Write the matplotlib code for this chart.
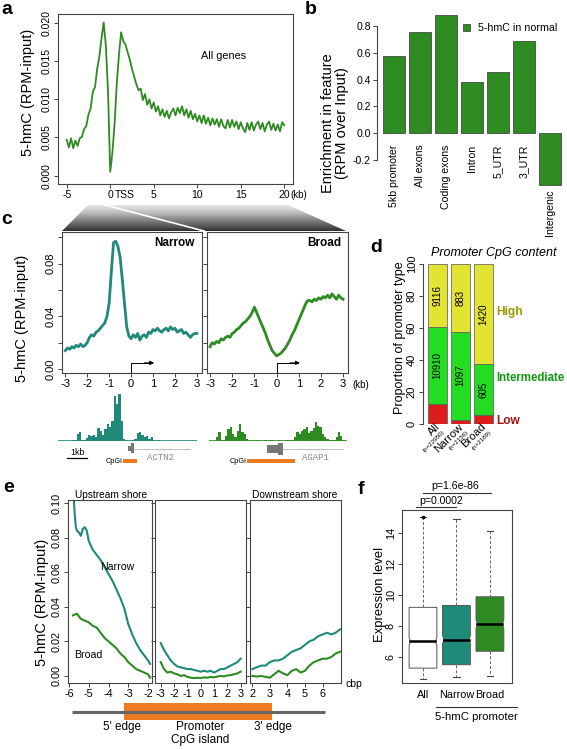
import numpy as np
import matplotlib.pyplot as plt
from matplotlib.patches import Polygon, Rectangle, Patch

plt.rcParams['font.family'] = ['Liberation Sans', 'DejaVu Sans']
plt.rcParams['axes.edgecolor'] = '#444444'
plt.rcParams['axes.linewidth'] = 0.8
plt.rcParams['xtick.color'] = '#444444'
plt.rcParams['ytick.color'] = '#444444'
plt.rcParams['xtick.labelcolor'] = 'black'
plt.rcParams['ytick.labelcolor'] = 'black'

GREEN = '#2e8b22'
TEAL = '#1f8a7a'
ORANGE = '#ee7a22'

# ---------------- data ----------------
# a: 5-hmC around TSS for all genes, one value every 0.25 kb from -5 to 20
a_vals = [0.0047, 0.0037, 0.0049, 0.0036, 0.0046, 0.0039, 0.0049, 0.0051, 0.0061, 0.0065,
          0.0080, 0.0088, 0.0110, 0.0116, 0.0140, 0.0156, 0.0180, 0.0201, 0.0170, 0.0110,
          0.0005, 0.0030, 0.0068, 0.0120, 0.0158, 0.0188, 0.0176, 0.0172, 0.0162, 0.0152,
          0.0140, 0.0130, 0.0120, 0.0112, 0.0114, 0.0099, 0.0107, 0.0093, 0.0100, 0.0088,
          0.0096, 0.0084, 0.0091, 0.0079, 0.0087, 0.0077, 0.0085, 0.0075, 0.0083, 0.0088,
          0.0079, 0.0089, 0.0082, 0.0091, 0.0079, 0.0087, 0.0076, 0.0085, 0.0074, 0.0081,
          0.0071, 0.0079, 0.0069, 0.0079, 0.0068, 0.0076, 0.0066, 0.0075, 0.0067, 0.0074,
          0.0064, 0.0074, 0.0065, 0.0062, 0.0073, 0.0063, 0.0073, 0.0064, 0.0071, 0.0061,
          0.0070, 0.0062, 0.0057, 0.0069, 0.0060, 0.0070, 0.0059, 0.0067, 0.0071, 0.0061,
          0.0069, 0.0058, 0.0067, 0.0071, 0.0060, 0.0068, 0.0059, 0.0067, 0.0058, 0.0070,
          0.0066]
a_x = np.linspace(-5, 20, len(a_vals))

# b: enrichment in genomic features
b_feat = ['5kb promoter', 'All exons', 'Coding exons', 'Intron', '5_UTR', '3_UTR', 'Intergenic']
b_vals = [0.577, 0.757, 0.885, 0.38, 0.457, 0.687, -0.39]

# c: narrow / broad promoter profiles, every 0.1 kb from -3 to 3
c_narrow = [0.014, 0.016, 0.015, 0.017, 0.016, 0.018, 0.017, 0.019, 0.017, 0.018,
            0.020, 0.024, 0.026, 0.025, 0.028, 0.029, 0.031, 0.033, 0.035, 0.040,
            0.050, 0.074, 0.096, 0.097, 0.093, 0.085, 0.068, 0.050, 0.032, 0.025,
            0.023, 0.026, 0.024, 0.027, 0.022, 0.025, 0.026, 0.024, 0.028, 0.027,
            0.030, 0.029, 0.031, 0.029, 0.028, 0.030, 0.031, 0.029, 0.032, 0.030,
            0.031, 0.028, 0.029, 0.030, 0.027, 0.028, 0.026, 0.024, 0.026, 0.027,
            0.027]
c_broad = [0.017, 0.020, 0.019, 0.021, 0.020, 0.023, 0.022, 0.024, 0.025, 0.024,
           0.027, 0.028, 0.030, 0.031, 0.033, 0.035, 0.036, 0.038, 0.040, 0.043,
           0.047, 0.043, 0.039, 0.035, 0.031, 0.027, 0.022, 0.018, 0.014, 0.012,
           0.010, 0.011, 0.012, 0.014, 0.016, 0.019, 0.022, 0.026, 0.029, 0.033,
           0.037, 0.041, 0.045, 0.049, 0.052, 0.052, 0.051, 0.053, 0.052, 0.054,
           0.053, 0.055, 0.054, 0.056, 0.054, 0.057, 0.055, 0.053, 0.056, 0.054,
           0.053]
c_x = np.linspace(-3, 3, len(c_narrow))

# c: genome browser signal (60 bins per track)
trk_actn2 = [0, 0, 0, 0, 0, 0, 1, 3, 20, 25, 2, 1, 8, 18, 15, 16, 10, 38, 30, 18,
             35, 50, 40, 60, 135, 110, 140, 60, 5, 2, 0, 0, 1, 4, 22, 25, 18, 12, 14, 5,
             12, 3, 0, 1, 0, 0, 0, 0, 0, 0, 0, 0, 0, 0, 0, 0, 0, 0, 0, 0]
trk_agap1 = [0, 0, 0, 10, 25, 3, 2, 15, 35, 40, 20, 10, 30, 50, 25, 20, 5, 1, 0, 2,
             0, 1, 0, 0, 1, 0, 2, 1, 0, 0, 1, 0, 0, 1, 2, 0, 3, 12, 25, 20,
             28, 35, 40, 22, 30, 38, 55, 45, 40, 20, 12, 5, 3, 2, 1, 10, 25, 15, 2, 0]

# d: promoter CpG content (percent of promoters)
d_groups = ['All', 'Narrow', 'Broad']
d_n = ['(n=22950)', '(n=2156)', '(n=2189)']
d_low = [12.7, 2.7, 5.8]
d_mid = [47.8, 55.1, 31.6]
d_high = [39.5, 42.2, 62.6]
d_mid_cnt = ['10910', '1097', '605']
d_high_cnt = ['9116', '883', '1420']

# e: profiles across CpG island shores
e1_x = [-5.75, -5.7, -5.65, -5.6, -5.5, -5.4, -5.3, -5.2, -5.1, -5.0, -4.8, -4.6, -4.4,
        -4.2, -4.0, -3.8, -3.6, -3.4, -3.2, -3.0, -2.8, -2.6, -2.4, -2.2, -2.0, -1.9]
e1_narrow = [0.101, 0.092, 0.086, 0.084, 0.083, 0.081, 0.085, 0.086, 0.084, 0.078, 0.073,
             0.070, 0.067, 0.063, 0.059, 0.055, 0.050, 0.045, 0.039, 0.030, 0.024, 0.019,
             0.015, 0.012, 0.009, 0.007]
e1b_x = [-5.8, -5.6, -5.4, -5.2, -5.0, -4.8, -4.6, -4.4, -4.2, -4.0, -3.8, -3.6, -3.4,
         -3.2, -3.0, -2.8, -2.6, -2.4, -2.2, -2.0, -1.9]
e1_broad = [0.035, 0.036, 0.033, 0.032, 0.031, 0.029, 0.028, 0.025, 0.022, 0.020, 0.018,
            0.016, 0.013, 0.011, 0.008, 0.006, 0.004, 0.003, 0.002, 0.001, -0.001]
e2_narrow = [0.019, 0.015, 0.012, 0.009, 0.007, 0.0055, 0.005, 0.0045, 0.004, 0.004,
             0.0035, 0.003, 0.0025, 0.003, 0.0025, 0.003, 0.002, 0.003, 0.004, 0.004,
             0.005, 0.006, 0.007, 0.008, 0.010]
e2_broad = [0.008, 0.004, 0.002, 0.0025, 0.0015, 0.001, 0.0, 0.0005, -0.0005, -0.001,
            -0.0012, -0.001, -0.0012, -0.0008, -0.001, -0.0005, -0.0008, -0.0003, 0.0,
            -0.0002, 0.0003, 0.0005, 0.001, 0.0015, 0.0025]
e2_x = np.linspace(-3, 3, len(e2_narrow))
e3_narrow = [0.004, 0.005, 0.006, 0.006, 0.008, 0.009, 0.009, 0.010, 0.012, 0.014, 0.015,
             0.016, 0.018, 0.020, 0.021, 0.023, 0.024, 0.025, 0.024, 0.025, 0.027]
e3_broad = [0.000, -0.0003, 0.0, -0.0005, -0.001, 0.001, 0.003, 0.0015, 0.0005, 0.003,
            0.004, 0.002, 0.003, 0.006, 0.008, 0.009, 0.010, 0.010, 0.011, 0.013, 0.014]
e3_x = np.linspace(2, 7, len(e3_narrow))

# f: expression level boxplot stats
f_groups = ['All', 'Narrow', 'Broad']
f_low = [4.6, 4.7, 4.75]
f_q1 = [5.28, 5.5, 6.37]
f_med = [7.0, 7.12, 8.12]
f_q3 = [9.2, 9.32, 9.88]
f_high = [15.03, 14.92, 14.15]
f_fill = ['white', TEAL, GREEN]

# ---------------- layout helpers ----------------
W, H = 567, 749
fig = plt.figure(figsize=(W / 100, H / 100), dpi=100)


def pbox(x0, y0, x1, y1):
    return fig.add_axes([x0 / W, 1 - y1 / H, (x1 - x0) / W, (y1 - y0) / H])


def rtick(ax, fs=7.5):
    ax.tick_params(direction='out', length=3, width=0.7, labelsize=fs, pad=1.5)


ov = fig.add_axes([0, 0, 1, 1], zorder=10)
ov.set_xlim(0, W)
ov.set_ylim(H, 0)
ov.axis('off')
ov.patch.set_alpha(0)

# ---------------- panel a ----------------
ax = pbox(58, 14, 293, 184)
ax.plot(a_x, a_vals, color=GREEN, lw=1.3)
ax.set_xlim(-6.0, 21.0)
ax.set_ylim(-0.0011, 0.0212)
ax.set_xticks([-5, 0, 5, 10, 15, 20])
ax.set_xticklabels(['-5', '0', '5', '10', '15', '20'])
ax.set_yticks([0, 0.005, 0.01, 0.015, 0.02])
ax.set_yticklabels(['0.000', '0.005', '0.010', '0.015', '0.020'], rotation=90, va='center')
rtick(ax)
ax.text(13, 0.0157, 'All genes', fontsize=7.8, ha='center', va='center')
ov.text(115, 195, 'TSS', fontsize=7.5, ha='left', va='center')
ov.text(290, 195, '(kb)', fontsize=7, ha='left', va='center')

# ---------------- panel b ----------------
ax = pbox(377, 14, 565, 186)
bx = np.arange(len(b_vals))
ax.bar(bx, b_vals, width=0.846, color=GREEN, edgecolor='#333333', linewidth=0.5)
ax.set_xlim(-0.654, 6.58)
ax.set_ylim(-0.396, 0.8897)
for s in ['top', 'right', 'bottom']:
    ax.spines[s].set_visible(False)
ax.spines['left'].set_bounds(-0.2, 0.8)
ax.set_xticks([])
ax.set_yticks([-0.2, 0, 0.2, 0.4, 0.6, 0.8])
ax.set_yticklabels(['-0.2', '0.0', '0.2', '0.4', '0.6', '0.8'])
rtick(ax, 7.6)
for i, v in enumerate(b_vals):
    ax.text(i, (v - 0.035) if v < 0 else -0.085, b_feat[i], rotation=90,
            ha='center', va='top', fontsize=7.6, clip_on=False)
ax.legend([Patch(facecolor=GREEN, edgecolor='#333333', linewidth=0.5)], ['5-hmC in normal'],
          loc='center left', bbox_to_anchor=(463 / W, 1 - 28 / H), bbox_transform=fig.transFigure,
          frameon=False, fontsize=7.7, handlelength=0.7, handleheight=0.7,
          handletextpad=0.7, borderpad=0, borderaxespad=0)

# ---------------- panel c ----------------
grad = np.linspace(0.18, 0.85, 64).reshape(-1, 1)
trap = Polygon([(88, 205), (288, 205), (346, 231), (62, 231)], closed=True,
               facecolor='none', edgecolor='none', transform=ov.transData)
ov.add_patch(trap)
im = ov.imshow(grad, cmap='Greys', vmin=0, vmax=1.0, aspect='auto',
               extent=(62, 346, 231, 205), zorder=1)
im.set_clip_path(trap)
ov.plot([105, 204], [205, 231], color='white', lw=1.2, zorder=2)
ov.set_xlim(0, W)
ov.set_ylim(H, 0)

for k, (x0, x1, vals, col, name) in enumerate([(62, 201.7, c_narrow, TEAL, 'Narrow'),
                                               (206.7, 348, c_broad, GREEN, 'Broad')]):
    ax = pbox(x0, 232, x1, 373)
    ax.plot(c_x, vals, color=col, lw=2)
    ax.set_xlim(-3.15, 3.22)
    ax.set_ylim(-0.003, 0.104)
    ax.set_xticks(np.arange(-3, 4))
    ax.set_xticklabels([str(t) for t in range(-3, 4)])
    ax.set_yticks([0, 0.02, 0.04, 0.06, 0.08, 0.10])
    if k == 0:
        ax.set_yticklabels(['0.00', '', '0.04', '', '0.08', ''], rotation=90, va='center')
    else:
        ax.set_yticklabels([])
    rtick(ax, 8)
    ax.text(0.95, 0.92, name, transform=ax.transAxes, ha='right', va='center',
            fontsize=8.5, fontweight='bold')
    ax.plot([0, 0, 0.95], [-0.003, 0.0047, 0.0047], color='black', lw=0.7, clip_on=False)
    ax.annotate('', xy=(1.05, 0.0047), xytext=(0.6, 0.0047),
                arrowprops=dict(arrowstyle='-|>', color='black', lw=0.7,
                                mutation_scale=6, shrinkA=0, shrinkB=0))
ov.text(352, 385, '(kb)', fontsize=7, ha='left', va='center')

for (x0, x1, h, col) in [(58, 197, trk_actn2, TEAL), (209, 347, trk_agap1, GREEN)]:
    ax = pbox(x0, 389, x1, 441)
    ax.bar(np.arange(len(h)), h, width=1.0, color=col, linewidth=0)
    ax.axhline(0, color=col, lw=1.2)
    ax.set_xlim(-0.5, len(h) - 0.5)
    ax.set_ylim(-1, 155)
    ax.axis('off')

# gene models
ov.add_patch(Rectangle((127.5, 446), 3.5, 5, color='#777777', lw=0))
ov.add_patch(Rectangle((131, 443), 3, 10, color='#777777', lw=0))
ov.plot([134, 190], [449, 449], color='#bbbbbb', lw=0.7)
ov.text(160, 457, 'ACTN2', family='Liberation Mono', fontsize=6.5, color='#888888',
        ha='center', va='center')
ov.add_patch(Rectangle((123.3, 459.3), 13.4, 4, color=ORANGE, lw=0))
ov.text(122, 461.5, 'CpGi', fontsize=5.3, ha='right', va='center')
ov.plot([67.3, 87.3], [458, 458], color='black', lw=0.9)
ov.text(77.3, 452.5, '1kb', fontsize=6.5, ha='center', va='center')
ov.add_patch(Rectangle((266.7, 445), 11, 8.3, color='#777777', lw=0))
ov.add_patch(Rectangle((277.5, 443), 5, 12, color='#777777', lw=0))
ov.plot([283, 343], [449, 449], color='#bbbbbb', lw=0.7)
ov.text(315, 457, 'AGAP1', family='Liberation Mono', fontsize=6.5, color='#888888',
        ha='center', va='center')
ov.add_patch(Rectangle((247.3, 459.3), 47.7, 4, color=ORANGE, lw=0))
ov.text(246.5, 461.5, 'CpGi', fontsize=5.3, ha='right', va='center')

# ---------------- panel d ----------------
ax = pbox(423, 264, 500, 424)
dx = np.arange(len(d_groups))
low = np.array(d_low)
mid = np.array(d_mid)
high = np.array(d_high)
kw = dict(width=0.83, edgecolor='#555555', linewidth=0.5)
ax.bar(dx, low, color='#dd1c1c', **kw)
ax.bar(dx, mid, bottom=low, color='#22dd22', **kw)
ax.bar(dx, high, bottom=low + mid, color='#e3e332', **kw)
for i in dx:
    ax.text(i, low[i] + mid[i] / 2, d_mid_cnt[i], rotation=90, ha='center', va='center', fontsize=7)
    ax.text(i, low[i] + mid[i] + high[i] / 2, d_high_cnt[i], rotation=90, ha='center',
            va='center', fontsize=7)
    ax.text(i + 0.12, -2.0, d_groups[i], rotation=45, rotation_mode='anchor', ha='right',
            va='baseline', fontsize=8, clip_on=False)
    ax.text(i + 0.22, -3.5, d_n[i], rotation=45, rotation_mode='anchor', ha='right',
            va='top', fontsize=4.5, clip_on=False)
ax.set_xlim(-0.63, 2.72)
ax.set_ylim(0, 100)
for s in ['top', 'right', 'bottom']:
    ax.spines[s].set_visible(False)
ax.set_xticks([])
ax.set_yticks([0, 20, 40, 60, 80, 100])
ax.set_yticklabels(['0', '20', '40', '60', '80', '100'], rotation=90, va='center')
rtick(ax, 8)
ov.text(496, 312, 'High', fontsize=8.6, fontweight='bold', color='#9a9a00', ha='left', va='center')
ov.text(496, 378, 'Intermediate', fontsize=8.3, fontweight='bold', color='#119911',
        ha='left', va='center')
ov.text(496, 421, 'Low', fontsize=8.6, fontweight='bold', color='#a81010', ha='left', va='center')
ov.text(494, 253, 'Promoter CpG content', fontsize=9, style='italic', ha='center', va='center')

# ---------------- panel e ----------------
e_boxes = [(68, 152, (-6.05, -1.8), [-6, -5, -4, -3, -2]),
           (155, 246, (-3.43, 3.40), [-3, -2, -1, 0, 1, 2, 3]),
           (250, 341, (1.87, 7.05), [2, 3, 4, 5, 6])]
e_lines = [((e1_x, e1_narrow), (e1b_x, e1_broad)),
           ((e2_x, e2_narrow), (e2_x, e2_broad)),
           ((e3_x, e3_narrow), (e3_x, e3_broad))]
for k, ((x0, x1, xl, xt), (ln, lb)) in enumerate(zip(e_boxes, e_lines)):
    ax = pbox(x0, 500, x1, 683)
    ax.plot(ln[0], ln[1], color=TEAL, lw=1.5)
    ax.plot(lb[0], lb[1], color=GREEN, lw=1.5)
    ax.set_xlim(*xl)
    ax.set_ylim(-0.00405, 0.1017)
    ax.set_xticks(xt)
    ax.set_xticklabels([str(t) for t in xt])
    ax.set_yticks([0, 0.02, 0.04, 0.06, 0.08, 0.10])
    if k == 0:
        ax.set_yticklabels(['0.00', '0.02', '0.04', '0.06', '0.08', '0.10'],
                           rotation=90, va='center')
        ax.text(-3.58, 0.063, 'Narrow', fontsize=7.6, ha='center', va='center')
        ax.text(-5.04, 0.012, 'Broad', fontsize=7.6, ha='center', va='center')
    else:
        ax.set_yticklabels([])
    rtick(ax, 7.8)
ov.text(111, 495, 'Upstream shore', fontsize=7.3, ha='center', va='center')
ov.text(294.5, 495, 'Downstream shore', fontsize=7.3, ha='center', va='center')
ov.text(346, 684, 'cbp', fontsize=7.5, ha='left', va='center')
ov.plot([72, 325], [712, 712], color='#666666', lw=2.2, solid_capstyle='butt')
ov.add_patch(Rectangle((124, 703), 148, 17, color=ORANGE, lw=0))
ov.text(122, 727, "5' edge", fontsize=8.5, ha='center', va='center')
ov.text(200, 727, 'Promoter', fontsize=8.5, ha='center', va='center')
ov.text(200, 740, 'CpG island', fontsize=8.5, ha='center', va='center')
ov.text(272.5, 727, "3' edge", fontsize=8.5, ha='center', va='center')

# ---------------- panel f ----------------
ax = pbox(402, 510, 512, 683)
hw = 0.415
for i in range(3):
    x = i + 1
    n = 0.27
    pts = [(x - hw, f_q1[i]), (x + hw, f_q1[i]), (x + hw, f_med[i] - n),
           (x + hw * 0.9, f_med[i]), (x + hw, f_med[i] + n), (x + hw, f_q3[i]),
           (x - hw, f_q3[i]), (x - hw, f_med[i] + n), (x - hw * 0.9, f_med[i]),
           (x - hw, f_med[i] - n)]
    ax.add_patch(Polygon(pts, closed=True, facecolor=f_fill[i], edgecolor='#555555', lw=0.7))
    ax.plot([x - hw * 0.9, x + hw * 0.9], [f_med[i], f_med[i]], color='black', lw=1.8)
    ax.plot([x, x], [f_q3[i], f_high[i]], color='#666666', lw=0.7, ls=(0, (3, 2)))
    ax.plot([x, x], [f_q1[i], f_low[i]], color='#666666', lw=0.7, ls=(0, (3, 2)))
    ax.plot([x - 0.1, x + 0.1], [f_high[i], f_high[i]], color='#444444', lw=0.8)
    ax.plot([x - 0.1, x + 0.1], [f_low[i], f_low[i]], color='#444444', lw=0.8)
ax.plot([1], [f_high[0]], marker='o', ms=1.6, color='black')
ax.set_xlim(0.373, 3.66)
ax.set_ylim(4.32, 15.48)
ax.set_yticks([6, 8, 10, 12, 14])
ax.set_yticklabels(['6', '8', '10', '12', '14'], rotation=90, va='center')
ax.set_xticks([1, 2, 3])
ax.set_xticklabels(f_groups, fontsize=8.2)
rtick(ax, 7.8)
ax.tick_params(axis='x', length=0, pad=5)
ax.plot([1.0, 3.03], [16.58, 16.58], color='#333333', lw=0.8, clip_on=False)
ax.text(1.96, 17.03, 'p=1.6e-86', fontsize=7.6, ha='center', va='center')
ax.plot([0.8, 2.0], [15.67, 15.67], color='#333333', lw=0.8, clip_on=False)
ax.text(1.54, 16.06, 'p=0.0002', fontsize=7.6, ha='center', va='center')
ax.plot([1.39, 3.81], [2.77, 2.77], color='#333333', lw=0.8, clip_on=False)
ax.text(2.61, 2.13, '5-hmC promoter', fontsize=8.2, ha='center', va='center')

# ---------------- axis titles and panel letters ----------------
ylab = dict(rotation=90, ha='center', va='center')
ov.text(28, 92, '5-hmC (RPM-input)', fontsize=10.5, **ylab)
ov.text(335, 123, 'Enrichment in feature\n(RPM over Input)', fontsize=10.5, linespacing=1.0, **ylab)
ov.text(22, 318, '5-hmC (RPM-input)', fontsize=10.5, **ylab)
ov.text(400, 338, 'Proportion of promoter type', fontsize=9, **ylab)
ov.text(42, 602, '5-hmC (RPM-input)', fontsize=10.5, **ylab)
ov.text(380, 594, 'Expression level', fontsize=9.4, **ylab)
for lab, (x, y) in zip('abcdef', [(1, 10), (305, 9), (1, 220), (370, 247), (3, 487), (358, 489)]):
    ov.text(x, y, lab, fontsize=14, fontweight='bold', ha='left', va='center')

fig.savefig('out.png', dpi=100)
